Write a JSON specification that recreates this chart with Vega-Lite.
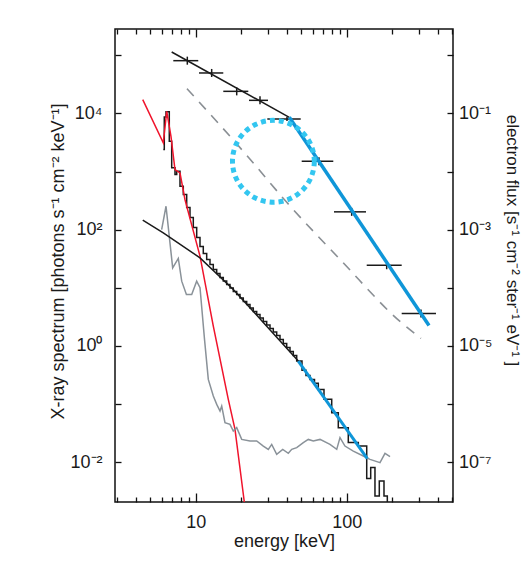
{
  "$schema": "https://vega.github.io/schema/vega-lite/v6.json",
  "width": 338,
  "height": 473,
  "autosize": {"type": "none"},
  "padding": {"left": 115, "top": 29, "right": 68, "bottom": 70},
  "background": "white",
  "config": {
    "font": "Liberation Sans",
    "view": {"stroke": "#111111", "strokeWidth": 1.5},
    "axis": {
      "labelFont": "Liberation Sans", "labelFontSize": 18, "labelColor": "#1a1a1a",
      "titleFont": "Liberation Sans", "titleFontSize": 18, "titleFontWeight": "normal", "titleColor": "#1a1a1a",
      "tickColor": "#111111", "tickWidth": 1.3, "grid": false, "domain": false
    }
  },
  "datasets": {
    "hist": [
      {"E": 6.10, "Y": 2385}, {"E": 6.195, "Y": 8706}, {"E": 6.359, "Y": 10740}, {"E": 6.686, "Y": 3314},
      {"E": 6.935, "Y": 1156}, {"E": 7.294, "Y": 886}, {"E": 7.486, "Y": 1010}, {"E": 7.871, "Y": 557},
      {"E": 8.278, "Y": 401}, {"E": 8.717, "Y": 240}, {"E": 9.168, "Y": 161}, {"E": 9.641, "Y": 108.6},
      {"E": 10.154, "Y": 73.2}, {"E": 10.678, "Y": 51.2}, {"E": 11.228, "Y": 38.8}, {"E": 11.825, "Y": 30.6},
      {"E": 12.435, "Y": 25.1}, {"E": 13.077, "Y": 20.6}, {"E": 13.773, "Y": 17.6}, {"E": 14.484, "Y": 15.0},
      {"E": 15.231, "Y": 13.07}, {"E": 16.04, "Y": 11.37}, {"E": 16.868, "Y": 9.9}, {"E": 17.742, "Y": 8.62},
      {"E": 18.685, "Y": 7.65}, {"E": 19.65, "Y": 6.66}, {"E": 20.665, "Y": 5.8}, {"E": 21.763, "Y": 5.15},
      {"E": 22.886, "Y": 4.48}, {"E": 24.067, "Y": 3.9}, {"E": 25.347, "Y": 3.47}, {"E": 26.656, "Y": 3.02},
      {"E": 28.032, "Y": 2.63}, {"E": 29.524, "Y": 2.29}, {"E": 31.048, "Y": 1.99}, {"E": 32.651, "Y": 1.73},
      {"E": 34.389, "Y": 1.51}, {"E": 36.163, "Y": 1.29}, {"E": 38.03, "Y": 1.1}, {"E": 40.054, "Y": 0.939},
      {"E": 42.122, "Y": 0.801}, {"E": 44.297, "Y": 0.684}, {"E": 46.654, "Y": 0.55}, {"E": 50.58, "Y": 0.378},
      {"E": 53.76, "Y": 0.31}, {"E": 57.14, "Y": 0.264}, {"E": 61.2, "Y": 0.226}, {"E": 64.85, "Y": 0.178},
      {"E": 70.73, "Y": 0.12}, {"E": 79.57, "Y": 0.0707}, {"E": 87.98, "Y": 0.039}, {"E": 102.47, "Y": 0.0216},
      {"E": 119.38, "Y": 0.0188}, {"E": 135.7, "Y": 0.00518}, {"E": 144.2, "Y": 0.00801}, {"E": 153.9, "Y": 0.0026},
      {"E": 164.4, "Y": 0.00471}, {"E": 176.6, "Y": 0.0026}, {"E": 185.8, "Y": 0.0001}, {"E": 199.5, "Y": 0.0001}
    ],
    "red": [
      {"E": 4.46, "Y": 17270}, {"E": 6.10, "Y": 3112}, {"E": 6.43, "Y": 10870}, {"E": 6.86, "Y": 4036},
      {"E": 7.29, "Y": 1082}, {"E": 7.87, "Y": 948}, {"E": 8.49, "Y": 330}, {"E": 9.17, "Y": 155},
      {"E": 10.68, "Y": 34.9}, {"E": 13.08, "Y": 2.18}, {"E": 16.44, "Y": 0.12}, {"E": 18.21, "Y": 0.0365},
      {"E": 20.99, "Y": 0.00205}
    ],
    "gray": [
      {"E": 5.95, "Y": 100.4}, {"E": 6.36, "Y": 252.6}, {"E": 7.04, "Y": 22.0}, {"E": 7.67, "Y": 31.9},
      {"E": 8.08, "Y": 12.96}, {"E": 8.68, "Y": 7.66}, {"E": 9.41, "Y": 7.66}, {"E": 10.15, "Y": 12.96},
      {"E": 10.68, "Y": 9.98}, {"E": 11.44, "Y": 1.29}, {"E": 12.12, "Y": 0.264}, {"E": 13.08, "Y": 0.1365},
      {"E": 13.78, "Y": 0.0982}, {"E": 14.49, "Y": 0.0753}, {"E": 14.87, "Y": 0.0918}, {"E": 15.63, "Y": 0.0476},
      {"E": 16.87, "Y": 0.0445}, {"E": 17.74, "Y": 0.0341}, {"E": 18.69, "Y": 0.0391}, {"E": 20.17, "Y": 0.0245},
      {"E": 22.89, "Y": 0.023}, {"E": 25.35, "Y": 0.023}, {"E": 28.04, "Y": 0.01884}, {"E": 30.26, "Y": 0.01652},
      {"E": 31.87, "Y": 0.02014}, {"E": 34.39, "Y": 0.01355}, {"E": 37.7, "Y": 0.01652}, {"E": 41.05, "Y": 0.01413},
      {"E": 43.24, "Y": 0.01652}, {"E": 46.67, "Y": 0.0177}, {"E": 51.6, "Y": 0.0216}, {"E": 55.68, "Y": 0.0245},
      {"E": 60.09, "Y": 0.023}, {"E": 66.56, "Y": 0.0245}, {"E": 77.5, "Y": 0.0201}, {"E": 85.9, "Y": 0.01652},
      {"E": 90.3, "Y": 0.0263}, {"E": 97.4, "Y": 0.01884}, {"E": 110.6, "Y": 0.01545}, {"E": 128.8, "Y": 0.01268},
      {"E": 142.7, "Y": 0.01112}, {"E": 166.2, "Y": 0.00977}, {"E": 179.3, "Y": 0.01413}, {"E": 193.6, "Y": 0.0124}
    ],
    "fitlow": [
      {"E": 4.46, "Y": 145.2}, {"E": 6.10, "Y": 88.1}, {"E": 10.68, "Y": 32.7}, {"E": 17.74, "Y": 9.33},
      {"E": 29.53, "Y": 2.18}, {"E": 47.8, "Y": 0.546}
    ],
    "bluelow": [
      {"E": 47.8, "Y": 0.546}, {"E": 136.9, "Y": 0.01142}
    ],
    "cross": [
      {"E": 8.80, "Elo": 7.107, "Ehi": 10.40, "F": 0.809, "Flo": 0.690, "Fhi": 0.949},
      {"E": 12.76, "Elo": 10.52, "Ehi": 15.23, "F": 0.497, "Flo": 0.424, "Fhi": 0.583},
      {"E": 18.69, "Elo": 15.23, "Ehi": 22.30, "F": 0.240, "Flo": 0.2046, "Fhi": 0.281},
      {"E": 26.66, "Elo": 22.54, "Ehi": 30.12, "F": 0.168, "Flo": 0.1432, "Fhi": 0.1967},
      {"E": 40.23, "Elo": 29.8, "Ehi": 49.6, "F": 0.0804, "Flo": 0.0743, "Fhi": 0.087},
      {"E": 65.54, "Elo": 50.35, "Ehi": 81.5, "F": 0.01501, "Flo": 0.0128, "Fhi": 0.0176},
      {"E": 107.9, "Elo": 82.4, "Ehi": 134.2, "F": 0.002023, "Flo": 0.001725, "Fhi": 0.00237},
      {"E": 184.0, "Elo": 135.7, "Ehi": 231.3, "F": 0.000244, "Flo": 0.000208, "Fhi": 0.000286},
      {"E": 310.5, "Elo": 231.3, "Ehi": 390.2, "F": 0.00003607, "Flo": 0.00003080, "Fhi": 0.00004230}
    ],
    "efit": [
      {"E": 6.935, "F": 1.142}, {"E": 41.69, "F": 0.0857}
    ],
    "eblue": [
      {"E": 41.69, "F": 0.0857}, {"E": 350.8, "F": 0.00002244}
    ],
    "dash": [
      {"E": 8.758, "F": 0.267}, {"E": 21.86, "F": 0.0188}, {"E": 40.23, "F": 0.002924},
      {"E": 93.1, "F": 0.0002828}, {"E": 225.4, "F": 0.0000263}, {"E": 310.5, "F": 0.0000134}
    ],
    "circle": [
      {"E": 32.7, "F": 0.015}
    ]
  },
  "resolve": {
    "scale": {"x": "independent", "y": "independent"},
    "axis": {"x": "independent", "y": "independent"}
  },
  "layer": [
    {
      "data": {"name": "hist"},
      "mark": {"type": "line", "interpolate": "step-after", "color": "#1a1a1a", "strokeWidth": 1.5, "clip": true},
      "encoding": {
        "x": {"field": "E", "type": "quantitative",
          "scale": {"type": "log", "domain": [2.9215, 505.8], "nice": false},
          "axis": {"orient": "bottom", "values": [10, 100], "ticks": false, "labelPadding": 25.5,
            "labelBaseline": "alphabetic", "labelExpr": "'' + datum.value",
            "title": "energy [keV]", "titleX": 169, "titleY": 44.5, "titleBaseline": "alphabetic", "titleAlign": "center"}},
        "y": {"field": "Y", "type": "quantitative",
          "scale": {"type": "log", "domain": [0.002051, 283900], "nice": false},
          "axis": {"orient": "left", "values": [0.01, 0.1, 1, 10, 100, 1000, 10000, 100000], "ticks": false,
            "labelPadding": 13,
            "labelExpr": "datum.value == 10000 ? '10⁴' : datum.value == 100 ? '10²' : datum.value == 1 ? '10⁰' : datum.value == 0.01 ? '10⁻²' : ''",
            "title": "X-ray spectrum [photons s⁻¹ cm⁻² keV⁻¹]", "titleAngle": 270,
            "titleX": -57, "titleY": 232, "titleAlign": "center", "titleBaseline": "middle"}}
      }
    },
    {
      "data": {"name": "red"},
      "mark": {"type": "line", "color": "#f0142c", "strokeWidth": 1.5, "clip": true},
      "encoding": {
        "x": {"field": "E", "type": "quantitative",
          "scale": {"type": "log", "domain": [2.9215, 505.8], "nice": false},
          "axis": {"orient": "bottom", "values": [10, 100], "tickSize": -9, "labels": false, "title": null}},
        "y": {"field": "Y", "type": "quantitative",
          "scale": {"type": "log", "domain": [0.002051, 283900], "nice": false},
          "axis": {"orient": "left", "values": [0.01, 0.1, 1, 10, 100, 1000, 10000, 100000], "tickSize": -6, "labels": false, "title": null}}
      }
    },
    {
      "data": {"name": "gray"},
      "mark": {"type": "line", "color": "#8a9299", "strokeWidth": 1.5, "clip": true},
      "encoding": {
        "x": {"field": "E", "type": "quantitative",
          "scale": {"type": "log", "domain": [2.9215, 505.8], "nice": false},
          "axis": {"orient": "bottom", "values": [3, 4, 5, 6, 7, 8, 9, 20, 30, 40, 50, 60, 70, 80, 90, 200, 300, 400, 500], "tickSize": -5, "labels": false, "title": null}},
        "y": {"field": "Y", "type": "quantitative",
          "scale": {"type": "log", "domain": [0.002051, 283900], "nice": false}, "axis": null}
      }
    },
    {
      "data": {"name": "fitlow"},
      "mark": {"type": "line", "color": "#1a1a1a", "strokeWidth": 1.5, "clip": true},
      "encoding": {
        "x": {"field": "E", "type": "quantitative",
          "scale": {"type": "log", "domain": [2.9215, 505.8], "nice": false},
          "axis": {"orient": "top", "values": [10, 100], "tickSize": -8, "labels": false, "title": null}},
        "y": {"field": "Y", "type": "quantitative",
          "scale": {"type": "log", "domain": [0.002051, 283900], "nice": false}, "axis": null}
      }
    },
    {
      "data": {"name": "bluelow"},
      "mark": {"type": "line", "color": "#0f96d8", "strokeWidth": 3, "clip": true},
      "encoding": {
        "x": {"field": "E", "type": "quantitative",
          "scale": {"type": "log", "domain": [2.9215, 505.8], "nice": false},
          "axis": {"orient": "top", "values": [3, 4, 5, 6, 7, 8, 9, 20, 30, 40, 50, 60, 70, 80, 90, 200, 300, 400, 500], "tickSize": -5, "labels": false, "title": null}},
        "y": {"field": "Y", "type": "quantitative",
          "scale": {"type": "log", "domain": [0.002051, 283900], "nice": false}, "axis": null}
      }
    },
    {
      "data": {"name": "dash"},
      "mark": {"type": "line", "color": "#8a8f94", "strokeWidth": 1.6, "strokeDash": [10, 8], "interpolate": "monotone", "clip": true},
      "encoding": {
        "x": {"field": "E", "type": "quantitative",
          "scale": {"type": "log", "domain": [2.9215, 505.8], "nice": false}, "axis": null},
        "y": {"field": "F", "type": "quantitative",
          "scale": {"type": "log", "domain": [2.051e-8, 2.839], "nice": false}, "axis": null}
      }
    },
    {
      "data": {"name": "cross"},
      "mark": {"type": "rule", "color": "#1a1a1a", "strokeWidth": 1.5},
      "encoding": {
        "x": {"field": "Elo", "type": "quantitative",
          "scale": {"type": "log", "domain": [2.9215, 505.8], "nice": false}, "axis": null},
        "x2": {"field": "Ehi"},
        "y": {"field": "F", "type": "quantitative",
          "scale": {"type": "log", "domain": [2.051e-8, 2.839], "nice": false},
          "axis": {"orient": "right", "values": [1e-7, 1e-6, 1e-5, 1e-4, 0.001, 0.01, 0.1, 1], "ticks": false,
            "labelPadding": 5.5,
            "labelExpr": "datum.value == 0.1 ? '10⁻¹' : datum.value == 0.001 ? '10⁻³' : datum.value == 0.00001 ? '10⁻⁵' : datum.value == 1e-7 ? '10⁻⁷' : ''",
            "title": "electron flux [s⁻¹ cm⁻² ster⁻¹ eV⁻¹ ]", "titleAngle": 90,
            "titleX": 58.5, "titleY": 211, "titleAlign": "center", "titleBaseline": "middle", "titleFontSize": 17}}
      }
    },
    {
      "data": {"name": "cross"},
      "mark": {"type": "rule", "color": "#1a1a1a", "strokeWidth": 1.5},
      "encoding": {
        "x": {"field": "E", "type": "quantitative",
          "scale": {"type": "log", "domain": [2.9215, 505.8], "nice": false}, "axis": null},
        "y": {"field": "Flo", "type": "quantitative",
          "scale": {"type": "log", "domain": [2.051e-8, 2.839], "nice": false},
          "axis": {"orient": "right", "values": [1e-7, 1e-6, 1e-5, 1e-4, 0.001, 0.01, 0.1, 1], "tickSize": -6, "labels": false, "title": null}},
        "y2": {"field": "Fhi"}
      }
    },
    {
      "data": {"name": "efit"},
      "mark": {"type": "line", "color": "#1a1a1a", "strokeWidth": 1.5},
      "encoding": {
        "x": {"field": "E", "type": "quantitative",
          "scale": {"type": "log", "domain": [2.9215, 505.8], "nice": false}, "axis": null},
        "y": {"field": "F", "type": "quantitative",
          "scale": {"type": "log", "domain": [2.051e-8, 2.839], "nice": false}, "axis": null}
      }
    },
    {
      "data": {"name": "eblue"},
      "mark": {"type": "line", "color": "#0f96d8", "strokeWidth": 3.5},
      "encoding": {
        "x": {"field": "E", "type": "quantitative",
          "scale": {"type": "log", "domain": [2.9215, 505.8], "nice": false}, "axis": null},
        "y": {"field": "F", "type": "quantitative",
          "scale": {"type": "log", "domain": [2.051e-8, 2.839], "nice": false}, "axis": null}
      }
    },
    {
      "data": {"name": "circle"},
      "mark": {"type": "point", "shape": "circle", "filled": false, "size": 6700, "color": "#33c6f0", "strokeWidth": 5, "strokeDash": [5, 4], "opacity": 1},
      "encoding": {
        "x": {"field": "E", "type": "quantitative",
          "scale": {"type": "log", "domain": [2.9215, 505.8], "nice": false}, "axis": null},
        "y": {"field": "F", "type": "quantitative",
          "scale": {"type": "log", "domain": [2.051e-8, 2.839], "nice": false}, "axis": null}
      }
    }
  ]
}
